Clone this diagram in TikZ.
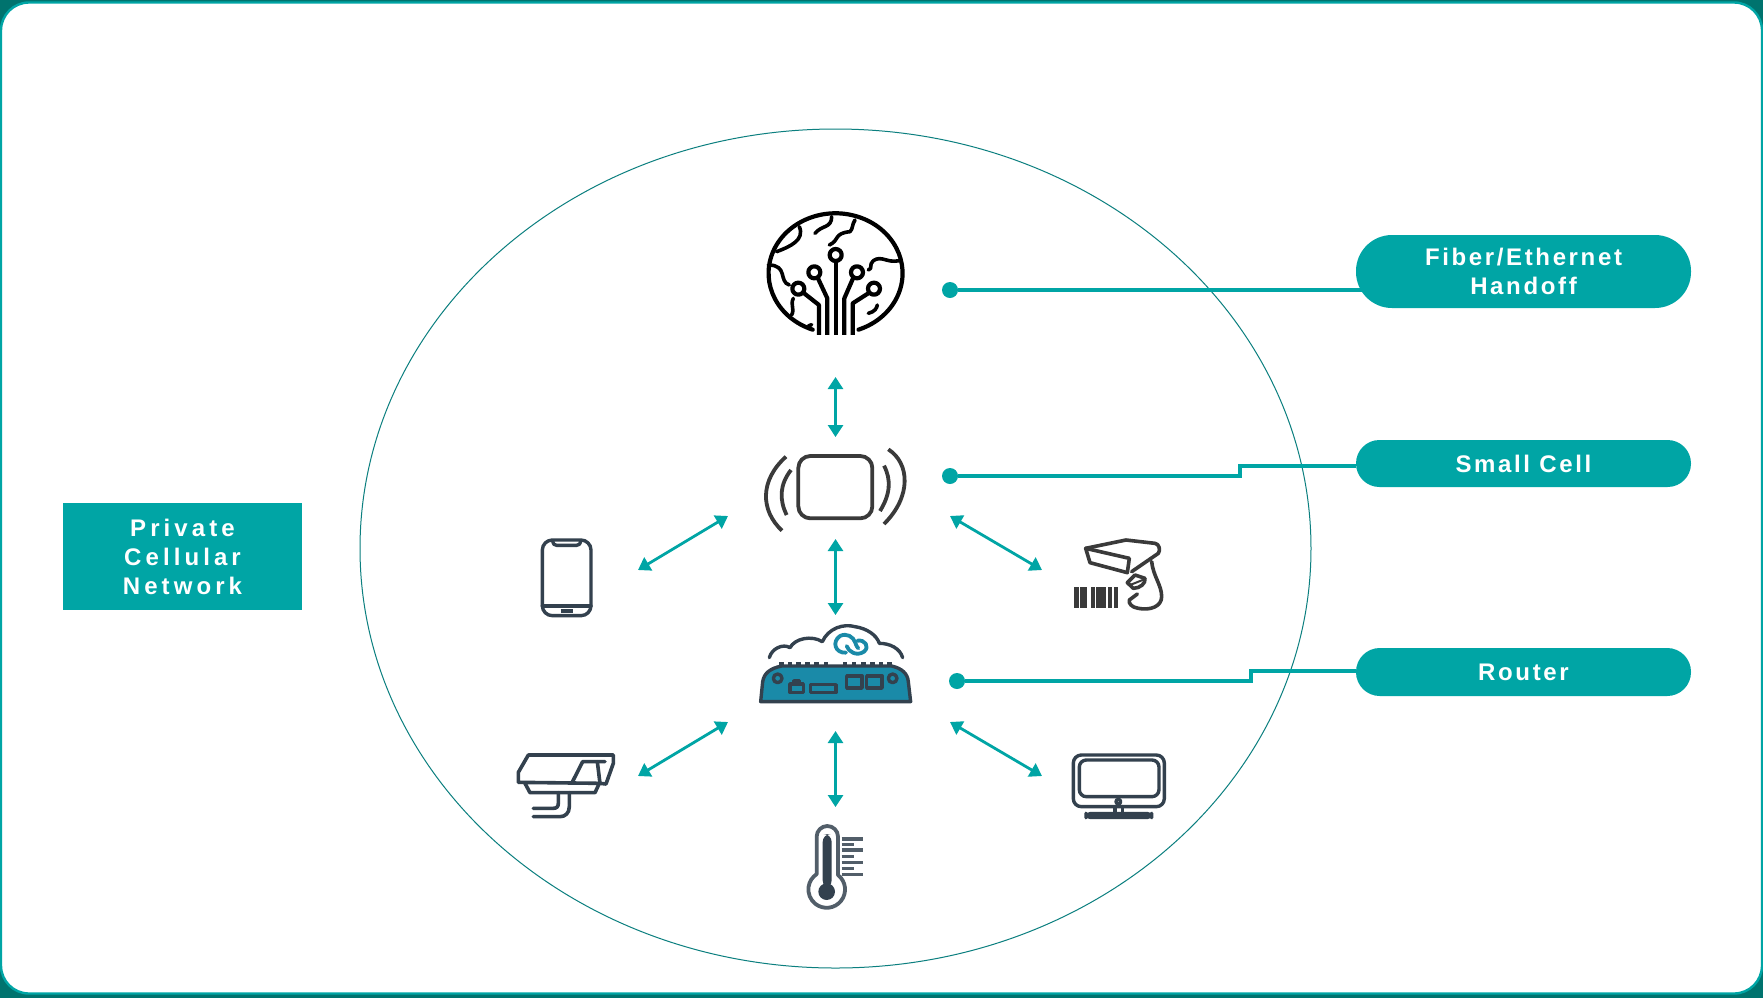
\documentclass[tikz,border=0pt]{standalone}
\usepackage{fontspec}
\usetikzlibrary{arrows.meta}
\setmainfont{Liberation Sans}
\newfontfamily\pillfont[LetterSpace=11]{Liberation Sans}
\newfontfamily\boxfont[LetterSpace=17]{Liberation Sans}
\definecolor{tealmain}{HTML}{00A5A5}
\definecolor{tealdark}{HTML}{0B7F7F}
\definecolor{framedark}{HTML}{00736E}
\definecolor{iconslate}{HTML}{33414E}
\definecolor{icongrey}{HTML}{3A3A3A}
\definecolor{routerblue}{HTML}{1A8AA8}
\tikzset{
  pill/.style={fill=tealmain,text=white,minimum width=167.5pt,inner sep=0pt,align=center,font=\pillfont\bfseries\fontsize{12}{14.5}\selectfont},
  titlebox/.style={fill=tealmain,text=white,minimum width=119.5pt,minimum height=53.5pt,inner sep=0pt,align=center,font=\boxfont\bfseries\fontsize{12}{14.5}\selectfont},
  dot/.style={circle,fill=tealmain,minimum size=8pt,inner sep=0pt},
  link/.style={draw=tealmain,line width=1.6pt},
  biarrow/.style={draw=tealmain,line width=1.4pt,{Triangle[length=6pt,width=7.5pt]}-{Triangle[length=6pt,width=7.5pt]}},
  zoomed/.style={scale=0.3333,line cap=round,line join=round}
}
\begin{document}
\begin{tikzpicture}[x=0.5pt,y=-0.5pt]
  \useasboundingbox (0,0) rectangle (1763,998);
  \fill[framedark] (0,0) rectangle (1763,998);
  \draw[draw=tealmain,fill=white,line width=1.2pt,rounded corners=14pt] (1,2.5) rectangle (1762,993.5);
  \draw[tealdark,line width=0.5pt] (835.5,548.5) ellipse [x radius=475.5,y radius=419.5];

  \node[titlebox] (title) at (182.5,556.5) {Private\\Cellular\\Network};
  \node[pill,minimum height=36.5pt,rounded corners=18pt] (pillFiber) at (1523.5,271.5) {Fiber/Ethernet\\Handoff};
  \node[pill,minimum height=23.5pt,rounded corners=11.7pt] (pillCell) at (1523.5,463.5) {Small Cell};
  \node[pill,minimum height=24pt,rounded corners=11.9pt] (pillRouter) at (1523.5,672) {Router};

  \node[dot] (dotFiber) at (950,290) {};
  \node[dot] (dotCell) at (950,476) {};
  \node[dot] (dotRouter) at (957,681) {};
  \coordinate (cellBend) at (1240,466);
  \coordinate (routerBend) at (1251,671);
  \draw[link] (dotFiber) -- ([xshift=3pt]pillFiber.west |- dotFiber);
  \draw[link] (dotCell) -- (dotCell -| cellBend) -- (cellBend) -- (pillCell.west |- cellBend);
  \draw[link] (dotRouter) -- (dotRouter -| routerBend) -- (routerBend) -- (pillRouter.west |- routerBend);

  % arrow ends
  \coordinate (globeS) at (835.5,377);
  \coordinate (cellN) at (835.5,437);
  \coordinate (cellS) at (835.5,539);
  \coordinate (routerN) at (835.5,615);
  \coordinate (routerS) at (835.5,731);
  \coordinate (thermoN) at (835.5,807);
  \coordinate (cellW) at (728,516);
  \coordinate (phoneE) at (638,570);
  \coordinate (cellE) at (950,516);
  \coordinate (scannerW) at (1042,570);
  \coordinate (routerW) at (728,722);
  \coordinate (cameraE) at (638,776);
  \coordinate (routerE) at (950,722);
  \coordinate (screenW) at (1042,776);
  \foreach \from/\to in {globeS/cellN,cellS/routerN,routerS/thermoN,cellW/phoneE,cellE/scannerW,routerW/cameraE,routerE/screenW}
    \draw[biarrow] (\from) -- (\to);

  % globe
  \begin{scope}[shift={(740,190)},zoomed,black,line width=2.1pt]
    \draw (218,419) arc [start angle=110,end angle=430,x radius=201,y radius=180];
    \draw[line width=1.8pt] (110,185) .. controls (150,170) and (195,150) .. (178,110);
    \draw[line width=1.8pt] (225,130) .. controls (245,105) and (275,115) .. (275,80);
    \draw[line width=1.8pt] (268,165) .. controls (300,150) and (280,130) .. (330,125) .. controls (340,115) and (335,105) .. (345,90);
    \draw[line width=1.8pt] (85,225) .. controls (145,225) and (115,275) .. (148,285);
    \draw[line width=1.8pt] (160,325) .. controls (150,345) and (165,355) .. (155,375);
    \draw[line width=1.8pt] (205,408) -- (215,404);
    \draw[line width=1.8pt] (478,212) .. controls (440,220) and (425,195) .. (400,212) .. controls (385,225) and (400,235) .. (385,240);
    \draw[line width=1.8pt] (385,370) .. controls (405,365) and (410,355) .. (412,345);
    \draw (287,195) circle [radius=18];
    \draw (223,247) circle [radius=18];
    \draw (351,247) circle [radius=18];
    \draw (175,296) circle [radius=18];
    \draw (402,296) circle [radius=18];
    \draw[line cap=butt] (287,213) -- (287,435);
    \draw[line cap=butt] (233,263) -- (262,325) -- (262,435);
    \draw[line cap=butt] (340,263) -- (313,325) -- (313,435);
    \draw[line cap=butt] (190,308) -- (237,345) -- (237,435);
    \draw[line cap=butt] (388,308) -- (338,340) -- (338,435);
  \end{scope}

  % small cell
  \begin{scope}[shift={(740,430)},zoomed,icongrey,line width=1.9pt]
    \draw[rounded corners=6pt] (175,78) rectangle (397,265);
    \draw[line cap=butt] (138,80) .. controls (60,150) and (60,240) .. (126,302);
    \draw[line cap=butt] (153,120) .. controls (118,165) and (118,210) .. (140,255);
    \draw[line cap=butt] (432,107) .. controls (455,150) and (450,195) .. (420,243);
    \draw[line cap=butt] (445,58) .. controls (510,100) and (515,200) .. (432,282);
  \end{scope}

  % router
  \begin{scope}[shift={(740,610)},zoomed,iconslate,line width=1.7pt]
    \draw[fill=routerblue] (62,275) -- (68,215) .. controls (72,190) and (90,175) .. (125,168) -- (455,168) .. controls (485,175) and (503,190) .. (505,215) -- (512,275) -- cycle;
    \foreach \x in {125,150,175,203,230,258,315,342,370,397,423,449}
      \draw[line width=2.2pt,line cap=butt] (\x,157) -- (\x,168);
    \draw (113,205) circle [radius=13];
    \draw (458,205) circle [radius=13];
    \draw (150,222) rectangle (190,248);
    \draw (162,222) -- (162,212) -- (178,212) -- (178,222);
    \draw (212,224) rectangle (288,248);
    \draw (320,198) rectangle (366,234);
    \draw (380,198) rectangle (426,234);
    \draw (88,143) .. controls (95,115) and (130,100) .. (150,113) .. controls (165,85) and (215,75) .. (247,95) .. controls (265,55) and (310,40) .. (345,50) .. controls (380,55) and (410,75) .. (418,100) .. controls (450,100) and (480,115) .. (488,143);
    \draw[routerblue,line width=1.9pt] (318,128) .. controls (285,130) and (275,95) .. (300,78) .. controls (320,68) and (340,80) .. (346,98) .. controls (350,110) and (352,112) .. (355,115);
    \draw[routerblue,line width=1.9pt] (352,92) .. controls (375,88) and (390,110) .. (372,125) .. controls (350,140) and (325,125) .. (320,108);
  \end{scope}

  % phone
  \begin{scope}[shift={(510,520)},zoomed,iconslate,line width=1.7pt]
    \draw[rounded corners=5pt] (97,60) rectangle (243,287);
    \draw (128,62) .. controls (130,72) and (132,76) .. (140,76) -- (200,76) .. controls (208,76) and (210,72) .. (212,62);
    \draw (97,258) -- (243,258);
    \draw[line cap=butt] (152,273) -- (188,273);
  \end{scope}

  % scanner
  \begin{scope}[shift={(1050,520)},zoomed,icongrey,line width=1.8pt]
    \draw (107,85) -- (228,60) -- (315,70) .. controls (328,72) and (332,90) .. (325,100) -- (245,155);
    \draw (107,85) -- (120,128) -- (232,158) -- (238,115) -- cycle;
    \draw (305,125) .. controls (310,170) and (335,195) .. (335,230) .. controls (335,260) and (300,272) .. (265,265) .. controls (245,262) and (235,250) .. (238,240) -- (262,222);
    \draw (255,165) -- (232,188) -- (250,205) .. controls (270,205) and (288,190) .. (285,175) -- (255,165);
    \draw[line width=1pt] (240,195) -- (278,180);
    \foreach \xa/\xb in {73/87,90/110,122/135,138/167,175/187,192/205}
      \fill (\xa,202) rectangle (\xb,265);
  \end{scope}

  % camera
  \begin{scope}[shift={(500,740)},zoomed,iconslate,line width=1.8pt]
    \draw (55,127) -- (55,97) -- (85,45) -- (340,45) -- (340,70) -- (318,132) -- (300,130) -- cycle;
    \draw (215,130) -- (248,65) -- (315,65);
    \draw (292,65) -- (300,130);
    \draw (75,130) -- (90,158) -- (285,158) -- (298,130);
    \draw (175,158) -- (175,190) .. controls (175,200) and (170,205) .. (160,205) -- (100,205);
    \draw (208,158) -- (208,200) .. controls (208,220) and (195,230) .. (180,230) -- (100,230);
  \end{scope}

  % screen
  \begin{scope}[shift={(1050,740)},zoomed,iconslate,line width=1.7pt]
    \draw[rounded corners=4pt] (70,45) rectangle (343,200);
    \draw[rounded corners=3.5pt] (88,60) rectangle (327,170);
    \draw (205,185) circle [radius=7];
    \draw (195,200) -- (195,220);
    \draw (217,200) -- (217,220);
    \draw[rounded corners=2pt] (108,221) rectangle (305,232);
  \end{scope}

  % thermometer
  \begin{scope}[shift={(790,810)},zoomed,iconslate!85!white,line width=1.9pt]
    \draw (80,192) -- (80,80) arc [start angle=180,end angle=360,radius=32] -- (144,195) arc [start angle=-52,end angle=237,radius=55] -- cycle;
    \fill[iconslate,rounded corners=4pt] (98,72) rectangle (125,235);
    \fill[iconslate] (110,245) circle [radius=25];
    \foreach \y in {87,120,158,193}
      \draw[line cap=butt,line width=1.6pt] (155,\y) -- (218,\y);
    \foreach \y in {104,140,176}
      \draw[line cap=butt,line width=1.6pt] (155,\y) -- (192,\y);
  \end{scope}
\end{tikzpicture}
\end{document}
